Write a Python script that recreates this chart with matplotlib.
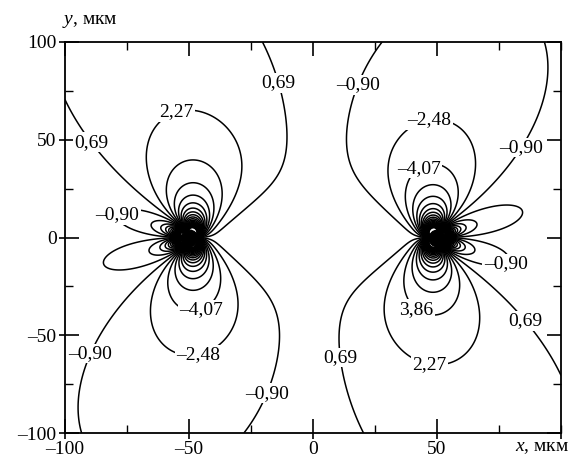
import numpy as np
import matplotlib
matplotlib.use("Agg")
import matplotlib.pyplot as plt
from matplotlib.ticker import MultipleLocator

plt.rcParams['font.family'] = ['Liberation Serif', 'DejaVu Serif']
plt.rcParams['mathtext.fontset'] = 'custom'
plt.rcParams['mathtext.it'] = 'Liberation Serif:italic'
plt.rcParams['mathtext.rm'] = 'Liberation Serif'

# ---- data ----
source_x = [-50.0, 50.0]          # positions of the two opposite sources, µm
source_y = [0.0, 0.0]
source_sign = [1.0, -1.0]
amplitude = 148.0                 # 1/r (dislocation-like) part
aniso = 0.5                       # weight of the x^2 term in the angular factor
quad_amplitude = 600.0            # 1/r^2 part
labeled_levels = [-4.07, -2.48, -0.90, 0.69, 2.27, 3.86]
inner_levels_pos = [5.45, 7.03, 8.62, 10.20, 11.79, 13.37, 14.96, 16.54,
                    18.13, 19.71, 21.30, 22.88, 24.47, 26.05, 27.64, 29.22,
                    30.81, 32.39, 33.98, 35.56]
inner_levels_neg = [-5.65, -7.24, -8.82, -10.41, -11.99, -13.58, -15.16,
                    -16.75, -18.33, -19.92, -21.50, -23.09, -24.67, -26.26,
                    -27.84, -29.43, -31.01, -32.60, -34.18, -35.77]
x_ticks = [-100, -50, 0, 50]
x_tick_labels = ['–100', '–50', '0', '50']
y_ticks = [-100, -50, 0, 50, 100]
y_tick_labels = ['–100', '–50', '0', '50', '100']
label_positions = {
    0.69: [(-17, 78), (-87, 51), (7, -62), (76, -53)],
    2.27: [(-56, 68), (46, -72)],
    -0.90: [(16, 79), (78, 51), (-85, 13), (78, -14), (-85, -62), (-16, -81)],
    -2.48: [(47, 60), (-46, -62)],
    -4.07: [(40, 41), (-46, -34)],
    3.86: [(38, -43)],
}

# ---- field ----
xg = np.linspace(-100, 100, 1000)
yg = np.linspace(-100, 100, 1000)
X, Y = np.meshgrid(xg, yg)
F = np.zeros_like(X)
for sx, sg in zip(source_x, source_sign):
    dx = X - sx
    r2 = dx**2 + Y**2
    F += sg * amplitude * (-Y * (aniso * dx**2 - Y**2) / r2**2)
    F += quad_amplitude * (2 * dx * Y / r2**2)

fig = plt.figure(figsize=(5.71, 4.58), dpi=100)
ax = fig.add_axes([65/571, 25/458, 496/571, 391/458])
LW = 1.1
ax.contour(X, Y, F, levels=sorted(inner_levels_neg), colors='black',
           linewidths=LW, linestyles='solid')
ax.contour(X, Y, F, levels=sorted(inner_levels_pos), colors='black',
           linewidths=LW, linestyles='solid')
ax.plot(source_x, source_y, 'o', color='black', ms=12, zorder=3)

def fmt(v):
    return f"{v:.2f}".replace('.', ',').replace('-', '–')

for lev in labeled_levels:
    c1 = ax.contour(X, Y, F, levels=[lev], colors='black', linewidths=LW,
                    linestyles='solid')
    pos = label_positions.get(lev, [])
    if pos:
        texts = c1.clabel(manual=pos, inline=False, fmt=fmt, fontsize=14)
        for t in texts:
            t.set_rotation(0)
            t.set_bbox(dict(facecolor='white', edgecolor='none', pad=1.0))

ax.set_xlim(-100, 100)
ax.set_ylim(-100, 100)
ax.set_xticks(x_ticks)
ax.set_xticklabels(x_tick_labels)
ax.set_yticks(y_ticks)
ax.set_yticklabels(y_tick_labels)
ax.xaxis.set_minor_locator(MultipleLocator(25))
ax.yaxis.set_minor_locator(MultipleLocator(25))
ax.tick_params(which='major', direction='in', length=10, width=1.2,
               top=True, right=True, labelsize=14, pad=6)
ax.tick_params(which='minor', direction='in', length=6, width=1.0,
               top=True, right=True)
for sp in ax.spines.values():
    sp.set_linewidth(1.3)

# outward stubs of the major ticks on the left and bottom
ax2 = fig.add_axes(ax.get_position(), frameon=False)
ax2.set_xlim(-100, 100)
ax2.set_ylim(-100, 100)
ax2.set_xticks(x_ticks + [100])
ax2.set_yticks(y_ticks)
ax2.tick_params(direction='out', length=4, width=1.2, labelbottom=False,
                labelleft=False)
ax2.patch.set_visible(False)

fig.text(62/571, 1 - 22/458, r'$\it{y}$, мкм', fontsize=14, ha='left',
         va='center')
fig.text(569/571, 1 - 448/458, r'$\it{x}$, мкм', fontsize=14, ha='right',
         va='center')

fig.savefig('out.png', dpi=100)
